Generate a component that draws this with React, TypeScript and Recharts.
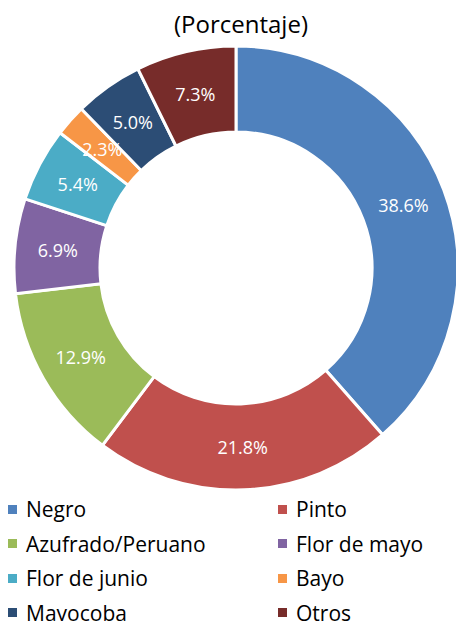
import { Legend, Pie, PieChart, Cell } from "recharts";

const categories = ["Negro", "Pinto", "Azufrado/Peruano", "Flor de mayo", "Flor de junio", "Bayo", "Mayocoba", "Otros"];
const shares = [38.6, 21.8, 12.9, 6.9, 5.4, 2.3, 5.0, 7.3];
const colors = ["#4F81BD", "#C0504D", "#9BBB59", "#8064A2", "#4BACC6", "#F79646", "#2C4D75", "#772C2A"];

const data = categories.map((name, i) => ({ name, value: shares[i] }));

const RADIAN = Math.PI / 180;
const font = "'Open Sans', sans-serif";

function renderLabel(props: any) {
  const { cx, cy, midAngle, innerRadius, outerRadius, value } = props;
  const r = (innerRadius + outerRadius) / 2;
  const x = cx + r * Math.cos(-midAngle * RADIAN);
  const y = cy + r * Math.sin(-midAngle * RADIAN);
  return (
    <text x={x} y={y} fill="#fff" textAnchor="middle" dominantBaseline="central" fontSize={18} fontFamily={font}>
      {value.toFixed(1)}%
    </text>
  );
}

function renderLegend() {
  return (
    <div style={{ display: "grid", gridTemplateColumns: "270px 186px", fontFamily: font, fontSize: 21, color: "#000" }}>
      {categories.map((name, i) => (
        <div key={name} style={{ display: "flex", alignItems: "center", height: 34.5, paddingLeft: 8 }}>
          <span style={{ width: 9, height: 9, background: colors[i], marginRight: 9, display: "inline-block" }} />
          <span>{name}</span>
        </div>
      ))}
    </div>
  );
}

export default function App() {
  return (
    <div style={{ position: "absolute", left: 0, top: 0, width: 456, height: 621, background: "#fff", overflow: "hidden" }}>
      <PieChart width={456} height={621} margin={{ top: 0, right: 0, bottom: 0, left: 0 }}>
        <text x={241} y={33} textAnchor="middle" fontSize={24} fontFamily={font} fill="#000">
          (Porcentaje)
        </text>
        <Pie
          data={data}
          dataKey="value"
          nameKey="name"
          cx={236}
          cy={268}
          innerRadius={136}
          outerRadius={222}
          startAngle={90}
          endAngle={-270}
          stroke="#fff"
          strokeWidth={3}
          label={renderLabel}
          labelLine={false}
          isAnimationActive={false}
        >
          {data.map((d, i) => (
            <Cell key={d.name} fill={colors[i]} />
          ))}
        </Pie>
        <Legend content={renderLegend} wrapperStyle={{ position: "absolute", left: 0, top: 492, width: 456 }} />
      </PieChart>
    </div>
  );
}
